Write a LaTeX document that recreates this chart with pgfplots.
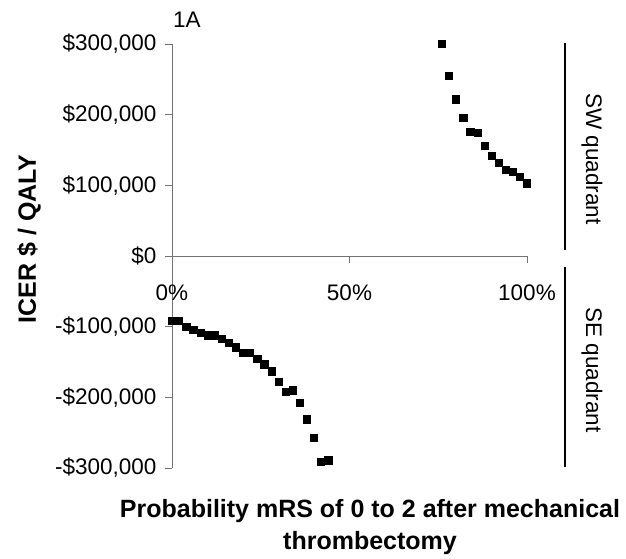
\documentclass[border=0pt]{standalone}
\usepackage{pgfplots}
\pgfplotsset{compat=1.18}
\usepackage{fontspec}
\setmainfont{Liberation Sans}
\newcommand{\tickfont}{\fontsize{22.5}{27}\selectfont}
\newcommand{\labfont}{\fontsize{25}{30}\selectfont\bfseries}
\begin{document}
\begin{tikzpicture}
\begin{axis}[
  width=355pt, height=424pt, scale only axis,
  xmin=0, xmax=100, ymin=-300000, ymax=300000,
  axis x line*=middle, axis y line*=left,
  hide obscured x ticks=false, hide obscured y ticks=false,
  axis line style={draw=black!55, line width=0.9pt},
  every tick/.style={draw=black!55, line width=0.9pt},
  tick align=outside, major tick length=7pt,
  xtick={0,50,100}, xticklabels={0\%,50\%,100\%},
  ytick={-300000,-200000,-100000,0,100000,200000,300000},
  yticklabels={{-\$300,000},{-\$200,000},{-\$100,000},{\$0},{\$100,000},{\$200,000},{\$300,000}},
  tick label style={font=\tickfont},
  xticklabel style={yshift=-18pt},
  yticklabel style={xshift=-5pt},
  scaled ticks=false,
  clip=false,
]
\addplot[only marks, mark=square*, mark size=3.6pt, black] coordinates {
(76,300000) (78,255000) (80,222000) (82,196000) (84,176000) (86,174000)
(88,156000) (90,142000) (92,132000) (94,122000) (96,119000) (98,112000) (100,103000)
};
\addplot[only marks, mark=square*, mark size=3.6pt, black] coordinates {
(0,-92000) (2,-92000) (4,-100000) (6,-104000) (8,-108000) (10,-112000)
(12,-112000) (14,-116500) (16,-123000) (18,-129000) (20,-137000) (22,-137000)
(24,-145000) (26,-153000) (28,-163000) (30,-178000) (32,-192000) (34,-190000)
(36,-208000) (38,-231000) (40,-257000) (42,-291000) (44,-289000)
};
\coordinate (o) at (rel axis cs:0,0);
\end{axis}
% annotations relative to axis lower-left (o)
\node[anchor=base west, inner sep=0pt, font=\tickfont] at ([shift={(1pt,440pt)}]o) {1A};
\node[anchor=center, rotate=90, inner sep=0pt, font=\labfont] at ([shift={(-143pt,229pt)}]o) {ICER \$ / QALY};
\node[anchor=base, inner sep=0pt, font=\labfont] at ([shift={(198pt,-49pt)}]o) {Probability mRS of 0 to 2 after mechanical};
\node[anchor=base, inner sep=0pt, font=\labfont] at ([shift={(198pt,-81pt)}]o) {thrombectomy};
\draw[black, line width=2.2pt] ([shift={(393pt,425pt)}]o) -- ([shift={(393pt,218pt)}]o);
\draw[black, line width=2.2pt] ([shift={(393pt,201pt)}]o) -- ([shift={(393pt,1pt)}]o);
\node[anchor=center, rotate=-90, inner sep=0pt, font=\tickfont] at ([shift={(420pt,309pt)}]o) {SW quadrant};
\node[anchor=center, rotate=-90, inner sep=0pt, font=\tickfont] at ([shift={(420pt,98pt)}]o) {SE quadrant};
\pgfresetboundingbox
\path[use as bounding box] ([shift={(-172pt,-91pt)}]o) rectangle ([shift={(454pt,468pt)}]o);
\end{tikzpicture}
\end{document}
